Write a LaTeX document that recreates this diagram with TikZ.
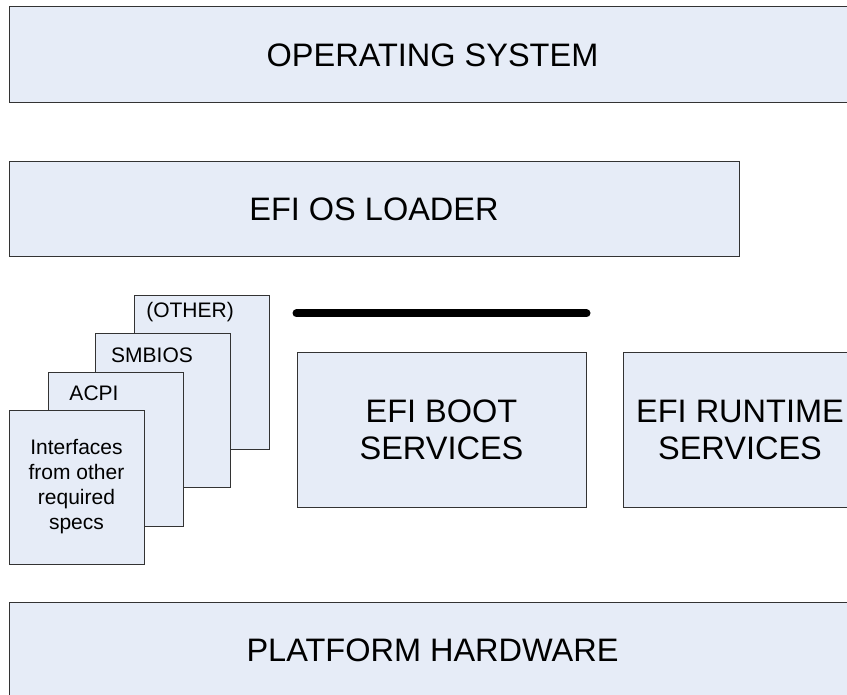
\documentclass[tikz,border=0pt]{standalone}
\usepackage{fontspec}
\setmainfont{Liberation Sans}
\usetikzlibrary{positioning}
\definecolor{layerfill}{RGB}{230,236,247}

\begin{document}
\begin{tikzpicture}[x=1pt,y=-1pt]
        \tikzstyle{layer}=[rectangle,draw=black!80,fill=layerfill,line width=1pt,inner sep=0pt,align=center]
        \tikzstyle{big}=[layer,font=\fontsize{32.5}{37}\selectfont]
        \tikzstyle{spec}=[layer,font=\fontsize{21}{25}\selectfont,minimum width=135pt,minimum height=154pt,anchor=north west]
        \tikzstyle{tag}=[font=\fontsize{21}{25}\selectfont,inner sep=0pt]
        \useasboundingbox (0,0) rectangle (847,695);
        \clip (0,0) rectangle (847,695);
        \node[big,minimum width=847pt,minimum height=96pt] (os) at (432.5,55) {OPERATING SYSTEM};
        \node[big,minimum width=730pt,minimum height=95pt] (loader) at (374,209.5) {EFI OS LOADER};
        % stack of spec interfaces, back to front
        \node[spec] (other) at (134,295) {};
        \node[spec] (smbios) at (95,333) {};
        \node[spec] (acpi) at (48,372) {};
        \node[spec,anchor=center] (iface) at (76.5,487) {Interfaces\\from other\\required\\specs};
        \node[tag] (other_txt) at (190,312) {(OTHER)};
        \node[tag] (smbios_txt) at (152,355) {SMBIOS};
        \node[tag] (acpi_txt) at (94,393) {ACPI};
        \node[big,minimum width=289pt,minimum height=154pt] (boot) at (441.5,430) {EFI BOOT\\SERVICES};
        \node[big,minimum width=234pt,minimum height=154pt] (runtime) at (740,430) {EFI RUNTIME\\SERVICES};
        \node[big,minimum width=847pt,minimum height=96pt] (hw) at (432.5,650) {PLATFORM HARDWARE};
        \coordinate[above=39pt of boot.north west] (bar_w);
        \coordinate[above=39pt of boot.north east] (bar_e);
        \draw[line width=8pt,line cap=round] (bar_w) -- (bar_e);
\end{tikzpicture}
\end{document}
